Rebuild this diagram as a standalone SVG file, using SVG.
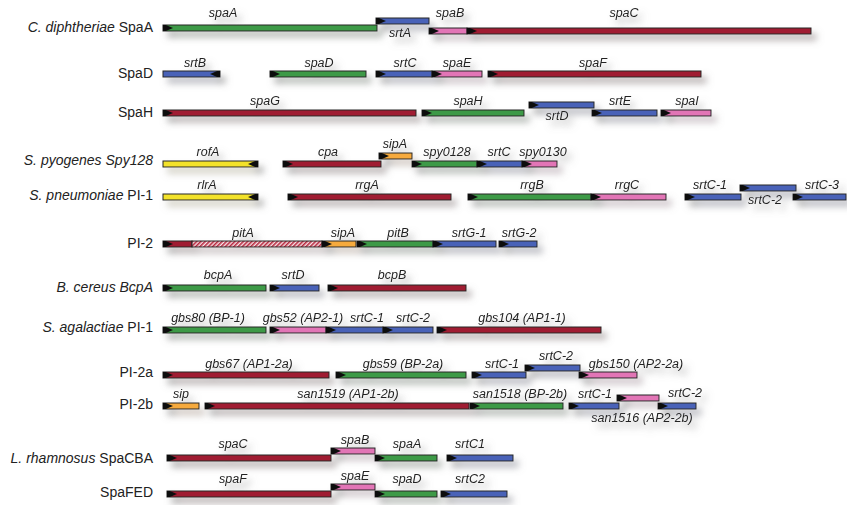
<svg xmlns="http://www.w3.org/2000/svg" xmlns:xlink="http://www.w3.org/1999/xlink" width="847" height="505" viewBox="0 0 847 505">
  <defs>
    <style>
      .bar { stroke: #262626; stroke-width: 1; }
      .gr { fill: #3c9a47; }
      .bl { fill: #4a62b8; }
      .rd { fill: #a01a32; }
      .pk { fill: #e274b6; }
      .yl { fill: #f3e22c; }
      .or { fill: #f6aa3c; }
      .ht { fill: url(#hatch); }
      .gl { font-family: "Liberation Sans", Arial, sans-serif; font-size: 12.5px; font-style: italic; fill: #222; text-anchor: middle; }
      .rl { font-family: "Liberation Sans", Arial, sans-serif; font-size: 14px; fill: #222; text-anchor: end; }
      .it { font-style: italic; }
      .ar { fill: #111; }
    </style>
    <!-- start-of-gene arrowheads, bar height 6 -->
    <path id="ar" class="ar" d="M0,0 h3 l7,3 l-7,3 h-3 z"/>
    <path id="arL" class="ar" d="M0,0 h-3 l-7,3 l7,3 h3 z"/>
    <pattern id="hatch" width="3" height="3" patternUnits="userSpaceOnUse" patternTransform="rotate(45)">
      <rect width="3" height="3" fill="#f6e4e8"/>
      <rect width="1.6" height="3" fill="#b8283f"/>
    </pattern>
    <filter id="sh" x="-5%" y="-10%" width="110%" height="120%">
      <feGaussianBlur in="SourceGraphic" stdDeviation="3.5" result="b"/>
      <feOffset in="b" dx="5" dy="6" result="o"/>
      <feColorMatrix in="o" type="matrix" values="0.35 0.15 0.15 0 0.18  0.15 0.35 0.15 0 0.18  0.15 0.15 0.35 0 0.18  0 0 0 0.6 0" result="s"/>
      <feMerge>
        <feMergeNode in="s"/>
        <feMergeNode in="SourceGraphic"/>
      </feMerge>
    </filter>
  </defs>

  <rect width="847" height="505" fill="#ffffff"/>

  <!-- locus names -->
  <g id="row-labels">
    <text class="rl" x="153" y="32"><tspan class="it">C. diphtheriae</tspan> SpaA</text>
    <text class="rl" x="153" y="78">SpaD</text>
    <text class="rl" x="153" y="117">SpaH</text>
    <text class="rl it" x="153" y="165">S. pyogenes Spy128</text>
    <text class="rl" x="153" y="200"><tspan class="it">S. pneumoniae</tspan> PI-1</text>
    <text class="rl" x="153" y="248">PI-2</text>
    <text class="rl it" x="153" y="292">B. cereus BcpA</text>
    <text class="rl" x="153" y="332"><tspan class="it">S. agalactiae</tspan> PI-1</text>
    <text class="rl" x="153" y="377">PI-2a</text>
    <text class="rl" x="153" y="409">PI-2b</text>
    <text class="rl" x="153" y="463"><tspan class="it">L. rhamnosus</tspan> SpaCBA</text>
    <text class="rl" x="153" y="497">SpaFED</text>
  </g>

  <g id="genes" filter="url(#sh)">
    <!-- C. diphtheriae SpaA -->
    <g id="cd-spaA"><rect class="bar gr" x="163" y="25" width="214" height="6"/><use href="#ar" x="163" y="25"/><text class="gl" x="223" y="17">spaA</text></g>
    <g id="cd-srtA"><rect class="bar bl" x="376" y="18" width="53" height="6"/><use href="#ar" x="376" y="18"/><text class="gl" x="400" y="37">srtA</text></g>
    <g id="cd-spaB"><rect class="bar pk" x="429" y="28" width="38" height="6"/><use href="#ar" x="429" y="28"/><text class="gl" x="450" y="17">spaB</text></g>
    <g id="cd-spaC"><rect class="bar rd" x="467" y="28" width="344" height="6"/><use href="#ar" x="467" y="28"/><text class="gl" x="624" y="17">spaC</text></g>

    <!-- SpaD -->
    <g id="cd-srtB"><rect class="bar bl" x="163" y="71" width="57" height="6"/><use href="#arL" x="220" y="71"/><text class="gl" x="195" y="67">srtB</text></g>
    <g id="cd-spaD"><rect class="bar gr" x="270" y="71" width="96" height="6"/><use href="#ar" x="270" y="71"/><text class="gl" x="319" y="67">spaD</text></g>
    <g id="cd-srtC"><rect class="bar bl" x="376" y="71" width="56" height="6"/><use href="#ar" x="376" y="71"/><text class="gl" x="405" y="67">srtC</text></g>
    <g id="cd-spaE"><rect class="bar pk" x="432" y="71" width="50" height="6"/><use href="#ar" x="432" y="71"/><text class="gl" x="457" y="67">spaE</text></g>
    <g id="cd-spaF"><rect class="bar rd" x="488" y="71" width="213" height="6"/><use href="#ar" x="488" y="71"/><text class="gl" x="593" y="67">spaF</text></g>

    <!-- SpaH -->
    <g id="cd-spaG"><rect class="bar rd" x="163" y="110" width="253" height="6"/><use href="#ar" x="163" y="110"/><text class="gl" x="265" y="105">spaG</text></g>
    <g id="cd-spaH"><rect class="bar gr" x="422" y="110" width="102" height="6"/><use href="#ar" x="422" y="110"/><text class="gl" x="468" y="105">spaH</text></g>
    <g id="cd-srtD"><rect class="bar bl" x="529" y="102" width="65" height="6"/><use href="#ar" x="529" y="102"/><text class="gl" x="557" y="120">srtD</text></g>
    <g id="cd-srtE"><rect class="bar bl" x="592" y="110" width="65" height="6"/><use href="#ar" x="592" y="110"/><text class="gl" x="620" y="105">srtE</text></g>
    <g id="cd-spaI"><rect class="bar pk" x="661" y="110" width="50" height="6"/><use href="#ar" x="661" y="110"/><text class="gl" x="687" y="105">spaI</text></g>

    <!-- S. pyogenes Spy128 -->
    <g id="sp-rofA"><rect class="bar yl" x="163" y="161" width="95" height="6"/><use href="#arL" x="258" y="161"/><text class="gl" x="208" y="156">rofA</text></g>
    <g id="sp-cpa"><rect class="bar rd" x="283" y="161" width="98" height="6"/><use href="#ar" x="283" y="161"/><text class="gl" x="328" y="156">cpa</text></g>
    <g id="sp-sipA"><rect class="bar or" x="379" y="153" width="33" height="6"/><use href="#ar" x="379" y="153"/><text class="gl" x="395" y="148">sipA</text></g>
    <g id="sp-spy0128"><rect class="bar gr" x="412" y="161" width="65" height="6"/><use href="#ar" x="412" y="161"/><text class="gl" x="447" y="156">spy0128</text></g>
    <g id="sp-srtC"><rect class="bar bl" x="477" y="161" width="45" height="6"/><use href="#ar" x="477" y="161"/><text class="gl" x="499" y="156">srtC</text></g>
    <g id="sp-spy0130"><rect class="bar pk" x="522" y="161" width="35" height="6"/><use href="#ar" x="522" y="161"/><text class="gl" x="543" y="156">spy0130</text></g>

    <!-- S. pneumoniae PI-1 -->
    <g id="pn-rlrA"><rect class="bar yl" x="163" y="194" width="95" height="6"/><use href="#arL" x="258" y="194"/><text class="gl" x="207" y="189">rlrA</text></g>
    <g id="pn-rrgA"><rect class="bar rd" x="288" y="194" width="163" height="6"/><use href="#ar" x="288" y="194"/><text class="gl" x="367" y="189">rrgA</text></g>
    <g id="pn-rrgB"><rect class="bar gr" x="468" y="194" width="123" height="6"/><use href="#ar" x="468" y="194"/><text class="gl" x="532" y="189">rrgB</text></g>
    <g id="pn-rrgC"><rect class="bar pk" x="591" y="194" width="75" height="6"/><use href="#ar" x="591" y="194"/><text class="gl" x="627" y="189">rrgC</text></g>
    <g id="pn-srtC-1"><rect class="bar bl" x="685" y="194" width="56" height="6"/><use href="#ar" x="685" y="194"/><text class="gl" x="710" y="189">srtC-1</text></g>
    <g id="pn-srtC-2"><rect class="bar bl" x="740" y="185" width="56" height="6"/><use href="#ar" x="740" y="185"/><text class="gl" x="765" y="204">srtC-2</text></g>
    <g id="pn-srtC-3"><rect class="bar bl" x="793" y="194" width="53" height="6"/><use href="#ar" x="793" y="194"/><text class="gl" x="822" y="189">srtC-3</text></g>

    <!-- PI-2 -->
    <g id="pn2-pitA"><rect class="bar rd" x="163" y="241" width="29" height="6"/><rect class="bar ht" x="192" y="241" width="130" height="6"/><use href="#ar" x="163" y="241"/><text class="gl" x="243" y="237">pitA</text></g>
    <g id="pn2-sipA"><rect class="bar or" x="322" y="241" width="34" height="6"/><use href="#ar" x="322" y="241"/><text class="gl" x="343" y="237">sipA</text></g>
    <g id="pn2-pitB"><rect class="bar gr" x="357" y="241" width="76" height="6"/><use href="#ar" x="357" y="241"/><text class="gl" x="398" y="237">pitB</text></g>
    <g id="pn2-srtG-1"><rect class="bar bl" x="433" y="241" width="63" height="6"/><use href="#ar" x="433" y="241"/><text class="gl" x="469" y="237">srtG-1</text></g>
    <g id="pn2-srtG-2"><rect class="bar bl" x="499" y="241" width="38" height="6"/><use href="#ar" x="499" y="241"/><text class="gl" x="519" y="237">srtG-2</text></g>

    <!-- B. cereus BcpA -->
    <g id="bc-bcpA"><rect class="bar gr" x="163" y="285" width="103" height="6"/><use href="#ar" x="163" y="285"/><text class="gl" x="218" y="279">bcpA</text></g>
    <g id="bc-srtD"><rect class="bar bl" x="270" y="285" width="49" height="6"/><use href="#ar" x="270" y="285"/><text class="gl" x="293" y="279">srtD</text></g>
    <g id="bc-bcpB"><rect class="bar rd" x="328" y="285" width="138" height="6"/><use href="#ar" x="328" y="285"/><text class="gl" x="392" y="279">bcpB</text></g>

    <!-- S. agalactiae PI-1 -->
    <g id="sa1-gbs80"><rect class="bar gr" x="163" y="327" width="103" height="6"/><use href="#ar" x="163" y="327"/><text class="gl" x="208" y="322">gbs80 (BP-1)</text></g>
    <g id="sa1-gbs52"><rect class="bar pk" x="270" y="327" width="56" height="6"/><use href="#ar" x="270" y="327"/><text class="gl" x="303" y="322">gbs52 (AP2-1)</text></g>
    <g id="sa1-srtC-1"><rect class="bar bl" x="326" y="327" width="57" height="6"/><use href="#ar" x="326" y="327"/><text class="gl" x="367" y="322">srtC-1</text></g>
    <g id="sa1-srtC-2"><rect class="bar bl" x="383" y="327" width="50" height="6"/><use href="#ar" x="383" y="327"/><text class="gl" x="413" y="322">srtC-2</text></g>
    <g id="sa1-gbs104"><rect class="bar rd" x="437" y="327" width="164" height="6"/><use href="#ar" x="437" y="327"/><text class="gl" x="522" y="322">gbs104 (AP1-1)</text></g>

    <!-- S. agalactiae PI-2a -->
    <g id="sa2a-gbs67"><rect class="bar rd" x="163" y="372" width="166" height="6"/><use href="#ar" x="163" y="372"/><text class="gl" x="249" y="368">gbs67 (AP1-2a)</text></g>
    <g id="sa2a-gbs59"><rect class="bar gr" x="336" y="372" width="130" height="6"/><use href="#ar" x="336" y="372"/><text class="gl" x="403" y="368">gbs59 (BP-2a)</text></g>
    <g id="sa2a-srtC-1"><rect class="bar bl" x="472" y="372" width="54" height="6"/><use href="#ar" x="472" y="372"/><text class="gl" x="502" y="368">srtC-1</text></g>
    <g id="sa2a-srtC-2"><rect class="bar bl" x="525" y="365" width="55" height="6"/><use href="#ar" x="525" y="365"/><text class="gl" x="556" y="360">srtC-2</text></g>
    <g id="sa2a-gbs150"><rect class="bar pk" x="579" y="372" width="58" height="6"/><use href="#ar" x="579" y="372"/><text class="gl" x="636" y="368">gbs150 (AP2-2a)</text></g>

    <!-- S. agalactiae PI-2b -->
    <g id="sa2b-sip"><rect class="bar or" x="163" y="403" width="36" height="6"/><use href="#ar" x="163" y="403"/><text class="gl" x="181" y="398">sip</text></g>
    <g id="sa2b-san1519"><rect class="bar rd" x="205" y="403" width="264" height="6"/><use href="#ar" x="205" y="403"/><text class="gl" x="348" y="398">san1519 (AP1-2b)</text></g>
    <g id="sa2b-san1518"><rect class="bar gr" x="470" y="403" width="93" height="6"/><use href="#ar" x="470" y="403"/><text class="gl" x="520" y="398">san1518 (BP-2b)</text></g>
    <g id="sa2b-srtC-1"><rect class="bar bl" x="569" y="403" width="50" height="6"/><use href="#ar" x="569" y="403"/><text class="gl" x="595" y="398">srtC-1</text></g>
    <g id="sa2b-san1516"><rect class="bar pk" x="617" y="395" width="42" height="6"/><use href="#ar" x="617" y="395"/><text class="gl" x="642" y="422">san1516 (AP2-2b)</text></g>
    <g id="sa2b-srtC-2"><rect class="bar bl" x="658" y="403" width="38" height="6"/><use href="#ar" x="658" y="403"/><text class="gl" x="685" y="397">srtC-2</text></g>

    <!-- L. rhamnosus SpaCBA -->
    <g id="lr-spaC"><rect class="bar rd" x="167" y="455" width="164" height="6"/><use href="#ar" x="167" y="455"/><text class="gl" x="233" y="448">spaC</text></g>
    <g id="lr-spaB"><rect class="bar pk" x="331" y="448" width="44" height="6"/><use href="#ar" x="331" y="448"/><text class="gl" x="355" y="444">spaB</text></g>
    <g id="lr-spaA"><rect class="bar gr" x="375" y="455" width="62" height="6"/><use href="#ar" x="375" y="455"/><text class="gl" x="407" y="448">spaA</text></g>
    <g id="lr-srtC1"><rect class="bar bl" x="447" y="455" width="66" height="6"/><use href="#ar" x="447" y="455"/><text class="gl" x="470" y="448">srtC1</text></g>

    <!-- L. rhamnosus SpaFED -->
    <g id="lr-spaF"><rect class="bar rd" x="167" y="491" width="164" height="6"/><use href="#ar" x="167" y="491"/><text class="gl" x="233" y="483">spaF</text></g>
    <g id="lr-spaE"><rect class="bar pk" x="331" y="484" width="44" height="6"/><use href="#ar" x="331" y="484"/><text class="gl" x="355" y="480">spaE</text></g>
    <g id="lr-spaD"><rect class="bar gr" x="375" y="491" width="62" height="6"/><use href="#ar" x="375" y="491"/><text class="gl" x="407" y="483">spaD</text></g>
    <g id="lr-srtC2"><rect class="bar bl" x="441" y="491" width="66" height="6"/><use href="#ar" x="441" y="491"/><text class="gl" x="470" y="483">srtC2</text></g>
  </g>

  <!-- this map has no connectors -->
  <g id="connectors"/>
</svg>
